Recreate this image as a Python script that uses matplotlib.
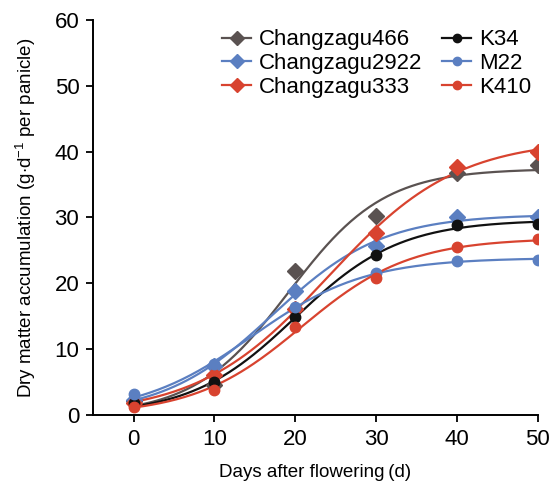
import numpy as np
import matplotlib
matplotlib.use('Agg')
import matplotlib.pyplot as plt

plt.rcParams['font.family'] = ['Liberation Sans', 'DejaVu Sans']
plt.rcParams['mathtext.fontset'] = 'custom'
plt.rcParams['mathtext.rm'] = 'Liberation Sans'
plt.rcParams['mathtext.it'] = 'Liberation Sans'

# days after flowering
days = [0, 10, 20, 30, 40, 50]

# dry matter accumulation
changzagu466 = [2.1, 4.6, 21.9, 30.2, 36.7, 37.9]
changzagu2922 = [2.3, 7.5, 18.9, 25.7, 30.0, 30.1]
changzagu333 = [1.9, 6.1, 16.1, 27.7, 37.7, 40.0]
k34 = [1.8, 5.0, 14.9, 24.3, 28.8, 29.0]
m22 = [3.2, 7.7, 16.4, 21.6, 23.4, 23.5]
k410 = [1.2, 3.8, 13.4, 20.8, 25.5, 26.7]

names = ['Changzagu466', 'Changzagu2922', 'Changzagu333', 'K34', 'M22', 'K410']
series = [changzagu466, changzagu2922, changzagu333, k34, m22, k410]
colors = ['#5a5251', '#5b7fc1', '#d8432f', '#111111', '#5b7fc1', '#d8432f']
markers = ['D', 'D', 'D', 'o', 'o', 'o']


def logistic_fit(x, y):
    # grid search on rate and midpoint, asymptote by least squares
    best = None
    for k in np.linspace(0.05, 0.4, 141):
        for x0 in np.linspace(5, 35, 151):
            g = 1.0 / (1.0 + np.exp(-k * (x - x0)))
            a = np.dot(g, y) / np.dot(g, g)
            err = np.sum((a * g - y) ** 2)
            if best is None or err < best[0]:
                best = (err, a, k, x0)
    return best[1:]


fig = plt.figure(figsize=(5.55, 4.86), dpi=100)
ax = fig.add_axes([0.168, 0.146, 0.801, 0.813])

x = np.array(days, dtype=float)
xs = np.linspace(0, 50, 200)
for name, y, c, m in zip(names, series, colors, markers):
    y = np.array(y)
    a, k, x0 = logistic_fit(x, y)
    ax.plot(xs, a / (1 + np.exp(-k * (xs - x0))), color=c, lw=1.6, zorder=2)
    ms = 8.5 if m == 'D' else 7.5
    ax.plot(x, y, ls='none', marker=m, ms=ms, color=c, mec=c, zorder=3)
    ax.plot([], [], color=c, lw=1.6, marker=m, ms=ms - 1.5, mec=c, label=name)

ax.set_xlim(-5, 50)
ax.set_ylim(0, 60)
ax.set_xticks(days)
ax.set_yticks(range(0, 61, 10))
for s in ['top', 'right']:
    ax.spines[s].set_visible(False)
for s in ['left', 'bottom']:
    ax.spines[s].set_linewidth(1.4)
ax.tick_params(direction='out', length=5, width=1.3, labelsize=16, pad=5)

ax.set_xlabel('Days after flowering\u2009(d)', fontsize=13.5, labelpad=10)
ax.set_ylabel(r'Dry matter accumulation (g$\cdot$d$^{-1}$ per panicle)', fontsize=13.5, labelpad=12)

ax.legend(ncol=2, loc='upper right', bbox_to_anchor=(1.015, 1.01), frameon=False,
          fontsize=16, handlelength=1.3, handletextpad=0.35, columnspacing=0.9,
          labelspacing=0.12, borderaxespad=0.2)

fig.savefig('out.png', dpi=100)
